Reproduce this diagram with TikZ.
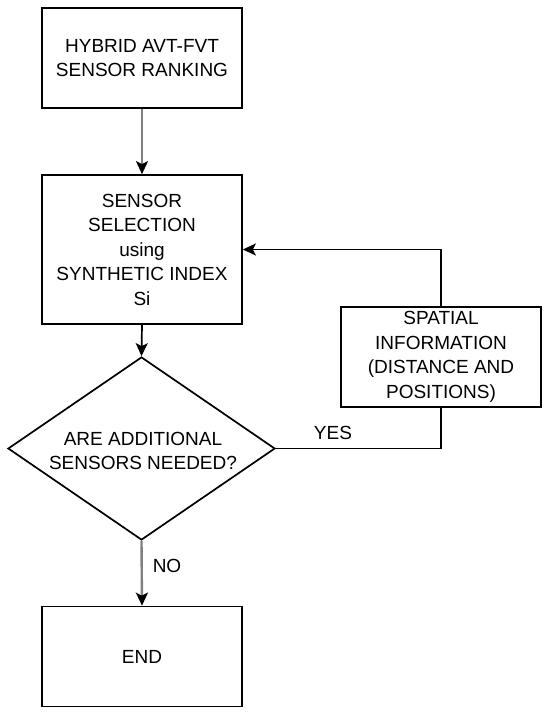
\documentclass[tikz,border=0pt]{standalone}
\usepackage{fontspec}
\setmainfont{Liberation Sans}
\usetikzlibrary{shapes.geometric,arrows.meta}
\begin{document}
\begin{tikzpicture}[x=1pt,y=1pt,
  box/.style={draw=black,line width=1.7pt,fill=white,inner sep=0pt,align=center,
    font=\fontsize{19}{24.5}\selectfont},
  lbl/.style={inner sep=0pt,font=\fontsize{19}{24}\selectfont},
  arr/.style={line width=1.7pt,draw=black,-{Stealth[length=13pt,width=12pt,inset=3pt]}},
  grayarr/.style={line width=2.4pt,draw=black!50,-{Stealth[length=13pt,width=12pt,inset=3pt,color=black]}},
  plain/.style={line width=1.7pt,draw=black}]
\useasboundingbox (0,0) rectangle (550,-715);
\node[box,minimum width=200pt,minimum height=100pt] (b1) at (142,-58) {HYBRID AVT-FVT\\SENSOR RANKING};
\node[box,minimum width=200pt,minimum height=149pt] (b2) at (142,-249.5) {SENSOR\\SELECTION\\using\\SYNTHETIC INDEX\\Si};
\node[diamond,draw=black,line width=1.7pt,inner sep=0pt,minimum width=267pt,minimum height=183pt] (d) at (141.5,-448.5) {};
\node[lbl,align=center,font=\fontsize{19}{24}\selectfont] (dt) at (143,-451) {ARE ADDITIONAL\\SENSORS NEEDED?};
\node[box,minimum width=200pt,minimum height=100pt] (e) at (142,-656.5) {END};
\draw[grayarr] (b1.south) -- (b2.north);
\draw[arr] (b2.south) -- (d.north);
\draw[grayarr] (d.south) -- (e.north);
\node[box,minimum width=200pt,minimum height=100pt] (s) at (441,-357) {SPATIAL\\INFORMATION\\(DISTANCE AND\\POSITIONS)};
\draw[plain] (d.east) -| (s.south);
\draw[arr] (s.north) |- (b2.east);
\node[lbl] (yes) at (333,-433) {YES};
\node[lbl] (no) at (167,-566) {NO};
\end{tikzpicture}
\end{document}
